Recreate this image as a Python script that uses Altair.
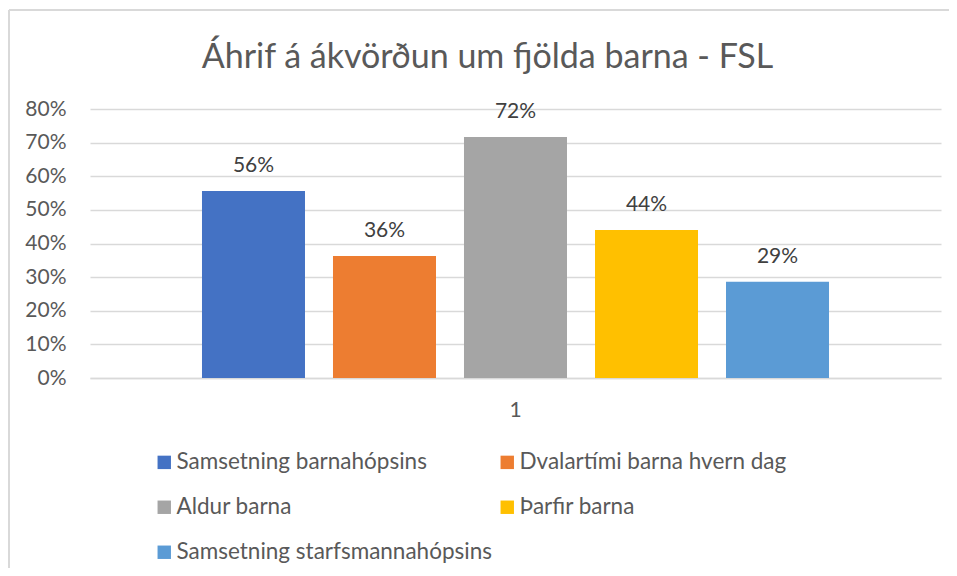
import altair as alt
import pandas as pd

categories = ["1", "1", "1", "1", "1"]
series = [
    "Samsetning barnahópsins",
    "Dvalartími barna hvern dag",
    "Aldur barna",
    "Þarfir barna",
    "Samsetning starfsmannahópsins",
]
values = [0.556, 0.363, 0.717, 0.44, 0.286]
colors = ["#4472C4", "#ED7D31", "#A5A5A5", "#FFC000", "#5B9BD5"]
y_ticks = [0, 0.1, 0.2, 0.3, 0.4, 0.5, 0.6, 0.7, 0.8]

df = pd.DataFrame({"cat": categories, "series": series, "value": values})

FONT = "Lato"
GREY = "#595959"

x_enc = alt.X(
    "cat:N",
    scale=alt.Scale(paddingInner=0, paddingOuter=0.1786),
    axis=alt.Axis(
        title=None, labelAngle=0, ticks=False, domain=True, domainColor="#d9d9d9",
        domainWidth=1.5, labelFontSize=21, labelColor=GREY, labelFont=FONT,
        labelPadding=21, labelBaseline="top",
    ),
)
xo_enc = alt.XOffset(
    "series:N",
    sort=series,
    scale=alt.Scale(domain=series, paddingInner=0.2137, paddingOuter=0),
)
y_enc = alt.Y(
    "value:Q",
    scale=alt.Scale(domain=[0, 0.8], nice=False),
    axis=alt.Axis(
        title=None, values=y_ticks, format=".0%", ticks=False, domain=False,
        grid=True, gridColor="#d9d9d9", gridWidth=1.5, labelFontSize=21,
        labelColor=GREY, labelFont=FONT, labelPadding=24, labelOverlap=False,
    ),
)

bars = alt.Chart(df).mark_bar().encode(
    x=x_enc,
    xOffset=xo_enc,
    y=y_enc,
    color=alt.Color(
        "series:N",
        scale=alt.Scale(domain=series, range=colors),
        sort=series,
        legend=alt.Legend(
            title=None, orient="none", legendX=63, legendY=342, columns=2,
            direction="horizontal",
            symbolType="square", symbolSize=180, symbolStrokeWidth=0,
            labelFontSize=22.5, labelColor=GREY, labelFont=FONT, labelLimit=500,
            columnPadding=4, rowPadding=22, labelOffset=1,
        ),
    ),
)

labels = alt.Chart(df).mark_text(
    baseline="alphabetic", dy=-19, fontSize=21, color="#404040", font=FONT
).encode(
    x=x_enc,
    xOffset=xo_enc,
    y=y_enc,
    text=alt.Text("value:Q", format=".0%"),
)

border_top = alt.Chart(df).mark_rule(color="#d9d9d9", strokeWidth=1.5).encode(
    x=alt.value(-81), x2=alt.value(900), y=alt.value(-99)
)
border_left = alt.Chart(df).mark_rule(color="#d9d9d9", strokeWidth=1.5).encode(
    x=alt.value(-81), y=alt.value(-99), y2=alt.value(500)
)

chart = (
    alt.layer(border_top, border_left, bars, labels)
    .properties(
        width=851,
        height=269,
        autosize=alt.AutoSizeParams(type="none"),
        padding={"left": 82, "top": 101, "right": 8, "bottom": 190},
        title=alt.TitleParams(
            "Áhrif á ákvörðun um fjölda barna - FSL", fontSize=34, font=FONT,
            fontWeight="normal", color=GREY, anchor="middle", dx=-28, offset=0,
            dy=66, frame="group",
        ),
    )
    .configure_view(stroke=None)
)

chart.save("out.html", embed_options={"renderer": "svg", "actions": False})
